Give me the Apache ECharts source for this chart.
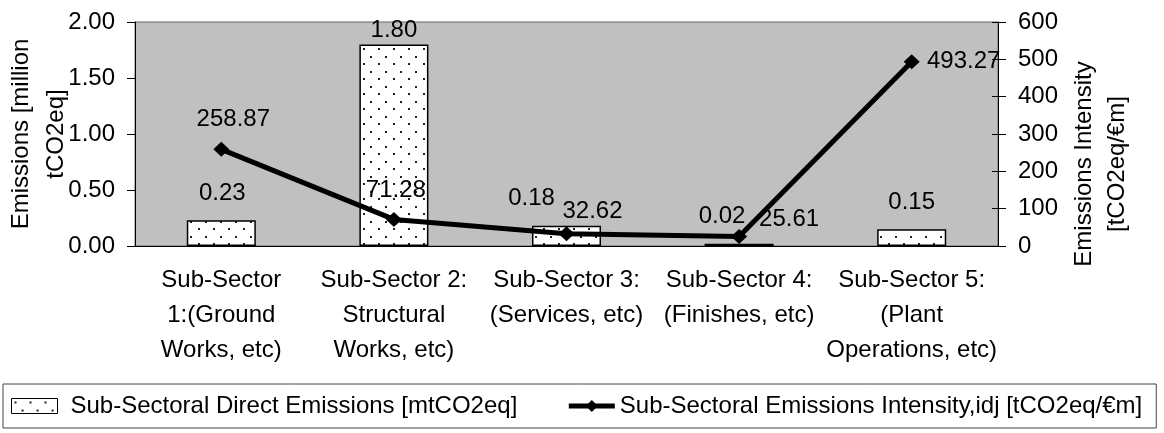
<!DOCTYPE html>
<html lang="en">
<head>
    <meta charset="UTF-8">
    <title>Sub-Sectoral Emissions</title>
    <script src="https://cdn.jsdelivr.net/npm/echarts@6/dist/echarts.min.js"></script>
    <style>
        body { margin: 0; background: #fff; }
        #chart { width: 1164px; height: 433px; }
    </style>
</head>
<body>
    <div id="chart"></div>
    <script>
        const categories = [
            'Sub-Sector\n1:(Ground\nWorks, etc)',
            'Sub-Sector 2:\nStructural\nWorks, etc)',
            'Sub-Sector 3:\n(Services, etc)',
            'Sub-Sector 4:\n(Finishes, etc)',
            'Sub-Sector 5:\n(Plant\nOperations, etc)'
        ];
        const directEmissions = [0.23, 1.80, 0.18, 0.02, 0.15];       // million tCO2eq
        const emissionsIntensity = [258.87, 71.28, 32.62, 25.61, 493.27]; // tCO2eq/€m

        // label nudges, to mimic where the original labels sit
        const barLabelShift = [[1, 0], [0, 13], [-35, 0], [-17, 0], [0, 0]];
        const lineLabelShift = [[12, -30], [2, -29], [26, -22], [50, -17], [52, 0]];

        const FONT = 'Liberation Sans, Arial, sans-serif';

        // dotted fill like the excel pattern
        let tile = document.createElement('canvas');
        tile.width = 15; tile.height = 15;
        let ctx = tile.getContext('2d');
        ctx.fillStyle = '#fff';
        ctx.fillRect(0, 0, 15, 15);
        ctx.fillStyle = '#222';
        ctx.fillRect(3, 3, 2, 2);
        ctx.fillRect(10, 11, 2, 2);
        const dots = { image: tile, repeat: 'repeat' };

        let my_echart = echarts.init(document.getElementById('chart'));

        let option = {
            animation: false,
            textStyle: { fontFamily: FONT, color: '#000' },
            grid: {
                left: 135, right: 166, top: 22, bottom: 187,
                containLabel: false, outerBoundsMode: 'none',
                show: true, backgroundColor: '#c0c0c0',
                borderColor: '#666', borderWidth: 1
            },
            legend: {
                left: 3, top: 384,
                padding: [10, 14, 10, 8],
                borderColor: '#444', borderWidth: 1,
                itemGap: 49,
                textStyle: { fontSize: 24, fontFamily: FONT, color: '#000' },
                data: [{
                    name: 'Sub-Sectoral Direct Emissions [mtCO2eq]',
                    icon: 'rect',
                    itemStyle: { color: dots, borderColor: '#000', borderWidth: 1 },
                    textStyle: { padding: [0, 0, 0, 8] }
                }, {
                    name: 'Sub-Sectoral Emissions Intensity,idj [tCO2eq/€m]',
                    itemStyle: { color: '#000' },
                    lineStyle: { color: '#000', width: 5 }
                }],
                itemWidth: 46, itemHeight: 15
            },
            xAxis: {
                type: 'category',
                data: categories,
                axisLine: { lineStyle: { color: '#000', width: 1 } },
                axisTick: { length: 8, lineStyle: { color: '#000' } },
                axisLabel: {
                    interval: 0, margin: 17,
                    fontSize: 24, lineHeight: 35, color: '#000', fontFamily: FONT
                }
            },
            yAxis: [{
                type: 'value',
                min: 0, max: 2, interval: 0.5,
                name: 'Emissions [million\ntCO2eq]',
                nameLocation: 'middle',
                nameRotate: 90,
                nameGap: 61,
                nameMoveOverlap: false,
                nameTextStyle: { fontSize: 24, lineHeight: 35, color: '#000', fontFamily: FONT },
                axisLine: { show: true, lineStyle: { color: '#000' } },
                axisTick: { show: true, length: 8, lineStyle: { color: '#000' } },
                splitLine: { show: false },
                axisLabel: {
                    margin: 20, fontSize: 24, color: '#000', fontFamily: FONT,
                    formatter: v => v.toFixed(2)
                }
            }, {
                type: 'value',
                position: 'right',
                min: 0, max: 600, interval: 100,
                name: 'Emissions Intensity\n[tCO2eq/€m]',
                nameLocation: 'middle',
                nameRotate: 90,
                nameGap: 70,
                nameMoveOverlap: false,
                nameTextStyle: {
                    fontSize: 24, lineHeight: 33, color: '#000', fontFamily: FONT,
                    padding: [0, 60, 0, 0]
                },
                axisLine: { show: true, lineStyle: { color: '#000' } },
                axisTick: { show: true, length: 8, lineStyle: { color: '#000' } },
                splitLine: { show: false },
                axisLabel: { margin: 20, fontSize: 24, color: '#000', fontFamily: FONT }
            }, {
                // inner half of the crossing ticks on the right axis
                type: 'value',
                position: 'right',
                min: 0, max: 600, interval: 100,
                axisLine: { show: false },
                axisTick: { show: true, inside: true, length: 6, lineStyle: { color: '#000' } },
                axisLabel: { show: false },
                splitLine: { show: false }
            }],
            series: [{
                name: 'Sub-Sectoral Direct Emissions [mtCO2eq]',
                type: 'bar',
                barWidth: '40%',
                itemStyle: { color: dots, borderColor: '#000', borderWidth: 1.5 },
                data: directEmissions.map((v, i) => ({
                    value: v,
                    label: { offset: barLabelShift[i] }
                })),
                label: {
                    show: true, position: 'top', distance: 15,
                    fontSize: 24, color: '#000', fontFamily: FONT,
                    formatter: p => p.value.toFixed(2)
                }
            }, {
                name: 'Sub-Sectoral Emissions Intensity,idj [tCO2eq/€m]',
                type: 'line',
                yAxisIndex: 1,
                symbol: 'diamond',
                symbolSize: [16, 15],
                z: 5,
                lineStyle: { color: '#000', width: 5 },
                itemStyle: { color: '#000' },
                data: emissionsIntensity.map((v, i) => ({
                    value: v,
                    label: { offset: lineLabelShift[i] }
                })),
                label: {
                    show: true, position: 'inside',
                    fontSize: 24, color: '#000', fontFamily: FONT,
                    formatter: p => p.value.toFixed(2)
                }
            }]
        };

        my_echart.setOption(option);
    </script>
</body>
</html>
